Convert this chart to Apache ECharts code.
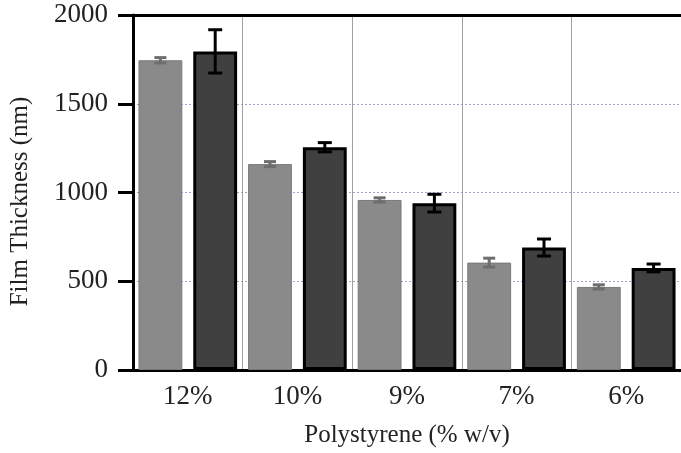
<!DOCTYPE html>
<html>
<head>
<meta charset="utf-8">
<script src="https://cdn.jsdelivr.net/npm/echarts@6/dist/echarts.min.js"></script>
<style>html,body{margin:0;padding:0;background:#fff;}#c{width:681px;height:453px;}</style>
</head>
<body>
<div id="c"></div>
<script>
var categories = ['12%', '10%', '9%', '7%', '6%'];
var lightValues = [1745, 1160, 958, 605, 468];
var lightErrors = [15, 14, 12, 25, 12];
var darkValues = [1795, 1255, 940, 690, 575];
var darkErrors = [122, 26, 50, 48, 22];
var yTicks = [0, 500, 1000, 1500, 2000];

var FONT = "'Liberation Serif', 'Times New Roman', serif";

function errData(vals, errs) {
  return vals.map(function (v, i) { return [i, v, errs[i]]; });
}
function errRender(side, color, width, cap) {
  return function (params, api) {
    var x = api.value(0), v = api.value(1), e = api.value(2);
    var bandW = api.size([1, 0])[0];
    var hi = api.coord([x, v + e]);
    var lo = api.coord([x, v - e]);
    var cx = hi[0] + side * 0.25 * bandW;
    var st = { stroke: color, lineWidth: width };
    return {
      type: 'group',
      children: [
        { type: 'line', shape: { x1: cx, y1: hi[1], x2: cx, y2: lo[1] }, style: st },
        { type: 'line', shape: { x1: cx - cap, y1: hi[1], x2: cx + cap, y2: hi[1] }, style: st },
        { type: 'line', shape: { x1: cx - cap, y1: lo[1], x2: cx + cap, y2: lo[1] }, style: st }
      ]
    };
  };
}

var chart = echarts.init(document.getElementById('c'), null, { renderer: 'canvas' });
chart.setOption({
  animation: false,
  backgroundColor: '#fff',
  grid: { left: 130, right: 0, top: 15, bottom: 83 },
  xAxis: [{
    type: 'category',
    data: categories,
    position: 'bottom',
    axisLine: { lineStyle: { color: '#000', width: 3 } },
    axisTick: { show: false },
    splitLine: { show: true, lineStyle: { color: '#a0a0a0', width: 1 } },
    axisLabel: { color: '#222', fontFamily: FONT, fontSize: 27, margin: 13 },
    name: 'Polystyrene (% w/v)',
    nameLocation: 'middle',
    nameGap: 53,
    nameTextStyle: { color: '#222', fontFamily: FONT, fontSize: 25 }
  }, {
    type: 'category',
    data: categories,
    position: 'top',
    axisLine: { lineStyle: { color: '#000', width: 3 } },
    axisTick: { show: false },
    axisLabel: { show: false },
    splitLine: { show: false }
  }],
  yAxis: {
    type: 'value',
    min: yTicks[0], max: yTicks[yTicks.length - 1], interval: yTicks[1] - yTicks[0],
    axisLine: { show: true, lineStyle: { color: '#000', width: 3 } },
    axisTick: { show: true, inside: false, length: 15, lineStyle: { color: '#000', width: 3 } },
    splitLine: { show: true, lineStyle: { color: '#a0a0d0', width: 1, type: [2, 2] } },
    axisLabel: { color: '#222', fontFamily: FONT, fontSize: 27, margin: 25, formatter: function (v) { return String(v); } },
    name: 'Film Thickness (nm)',
    nameLocation: 'middle',
    nameGap: 100,
    nameTextStyle: { color: '#222', fontFamily: FONT, fontSize: 25, padding: [0, 18, 0, 0] }
  },
  series: [{
    type: 'bar',
    data: lightValues,
    barWidth: '40%',
    barGap: '25%',
    itemStyle: { color: '#8a8a8a', borderColor: '#7a7a7a', borderWidth: 1 },
    z: 2
  }, {
    type: 'bar',
    data: darkValues,
    barWidth: '40%',
    barGap: '25%',
    itemStyle: { color: '#404040', borderColor: '#000', borderWidth: 3 },
    z: 2
  }, {
    type: 'custom',
    data: errData(lightValues, lightErrors),
    renderItem: errRender(-1, '#6e6e6e', 3, 6),
    z: 5
  }, {
    type: 'custom',
    data: errData(darkValues, darkErrors),
    renderItem: errRender(1, '#000', 3, 7),
    z: 5
  }]
});
</script>
</body>
</html>
